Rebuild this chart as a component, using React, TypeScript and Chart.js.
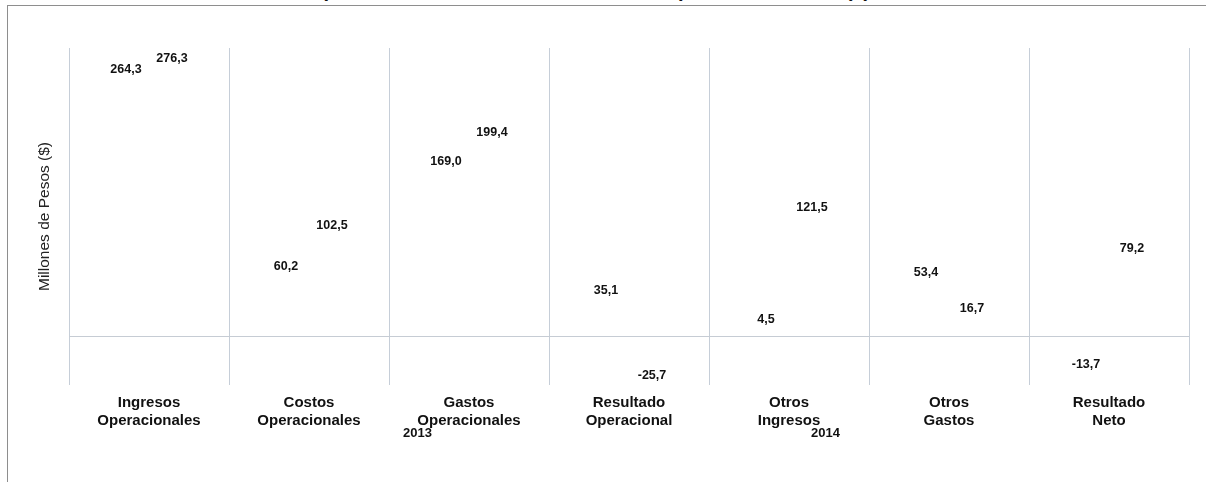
import React, { useEffect, useRef } from "react";
import { Chart, registerables } from "chart.js";

Chart.register(...registerables);

const categories: string[][] = [
  ["Ingresos", "Operacionales"],
  ["Costos", "Operacionales"],
  ["Gastos", "Operacionales"],
  ["Resultado", "Operacional"],
  ["Otros", "Ingresos"],
  ["Otros", "Gastos"],
  ["Resultado", "Neto"],
];
const seriesNames = ["2013", "2014"];
const values2013 = [264.3, 60.2, 169.0, 35.1, 4.5, 53.4, -13.7];
const values2014 = [276.3, 102.5, 199.4, -25.7, 121.5, 16.7, 79.2];
const yMin = -50;
const yMax = 300;
const yStep = 50;
const yTitle = "Millones de Pesos ($)";
const titleText = "Gráfica No. 1 Comparativo del Estado de resultados en pesos nominales ($) 2013 - 2014";

const FAMILY = "'Liberation Sans', Arial, Helvetica, sans-serif";

const valueLabels = {
  id: "valueLabels",
  afterDatasetsDraw(chart: any) {
    const ctx = chart.ctx;
    ctx.save();
    ctx.font = `bold 12.5px ${FAMILY}`;
    ctx.fillStyle = "#111";
    ctx.textAlign = "center";
    ctx.textBaseline = "middle";
    chart.data.datasets.forEach((ds: any, i: number) => {
      const meta = chart.getDatasetMeta(i);
      meta.data.forEach((el: any, j: number) => {
        const v = ds.data[j] as number;
        const p = el.getProps(["x", "y"], true);
        const ty = v >= 0 ? p.y - 12.5 : p.y + 14;
        ctx.fillText(v.toFixed(1).replace(".", ","), p.x, ty);
      });
    });
    ctx.restore();
  },
};

const legendStyle = (left: number): React.CSSProperties => ({
  position: "absolute",
  left,
  top: 425.5,
  font: `bold 13px ${FAMILY}`,
  lineHeight: "13px",
  color: "#111",
});

export default function App() {
  const ref = useRef<HTMLCanvasElement | null>(null);

  useEffect(() => {
    const prev = document.body.style.margin;
    document.body.style.margin = "0";
    if (!ref.current) return;
    const chart = new Chart(ref.current, {
      type: "bar",
      data: {
        labels: categories,
        datasets: [
          {
            label: seriesNames[0],
            data: values2013,
            backgroundColor: "rgba(0,0,0,0)",
            borderWidth: 0,
            categoryPercentage: 0.575,
            barPercentage: 0.9,
          },
          {
            label: seriesNames[1],
            data: values2014,
            backgroundColor: "rgba(0,0,0,0)",
            borderWidth: 0,
            categoryPercentage: 0.575,
            barPercentage: 0.9,
          },
        ],
      },
      options: {
        animation: false,
        responsive: false,
        layout: { padding: { left: 35, right: 17, top: 48, bottom: 0 } },
        plugins: {
          legend: { display: false },
          tooltip: { enabled: false },
          title: { display: false },
        },
        scales: {
          x: {
            grid: {
              offset: true,
              color: "#c6ced8",
              lineWidth: 1,
              drawTicks: false,
            },
            border: { display: false },
            ticks: {
              color: "#111",
              padding: 9,
              maxRotation: 0,
              autoSkip: false,
              font: { family: FAMILY, size: 15, weight: "bold", lineHeight: 18 / 15 },
            },
            afterFit: (s: any) => {
              s.height = 97;
            },
          },
          y: {
            min: yMin,
            max: yMax,
            ticks: { display: false, stepSize: yStep },
            grid: {
              drawTicks: false,
              lineWidth: 1,
              color: (c: any) => (c.tick && c.tick.value === 0 ? "#c6ccd4" : "rgba(0,0,0,0)"),
            },
            border: { display: false },
            title: {
              display: true,
              text: yTitle,
              color: "#222",
              padding: 0,
              font: { family: FAMILY, size: 15.5 },
            },
            afterFit: (s: any) => {
              s.width = 34;
            },
          },
        },
      } as any,
      plugins: [valueLabels],
    });
    return () => {
      chart.destroy();
      document.body.style.margin = prev;
    };
  }, []);

  return (
    <div
      style={{
        position: "fixed",
        left: 0,
        top: 0,
        width: 1206,
        height: 482,
        overflow: "hidden",
        background: "#fff",
        fontFamily: FAMILY,
      }}
    >
      <div
        style={{
          position: "absolute",
          left: 7,
          top: 5,
          width: 1198,
          height: 477,
          borderTop: "1px solid #8e8e8e",
          borderLeft: "1px solid #8e8e8e",
        }}
      />
      <div
        style={{
          position: "absolute",
          left: 150,
          top: -20,
          whiteSpace: "nowrap",
          font: `bold 20px ${FAMILY}`,
          lineHeight: "20px",
          color: "#111",
        }}
      >
        {titleText}
      </div>
      <canvas
        ref={ref}
        width={1206}
        height={482}
        style={{ position: "absolute", left: 0, top: 0, width: 1206, height: 482 }}
      />
      <span style={legendStyle(403)}>{seriesNames[0]}</span>
      <span style={legendStyle(811)}>{seriesNames[1]}</span>
    </div>
  );
}
